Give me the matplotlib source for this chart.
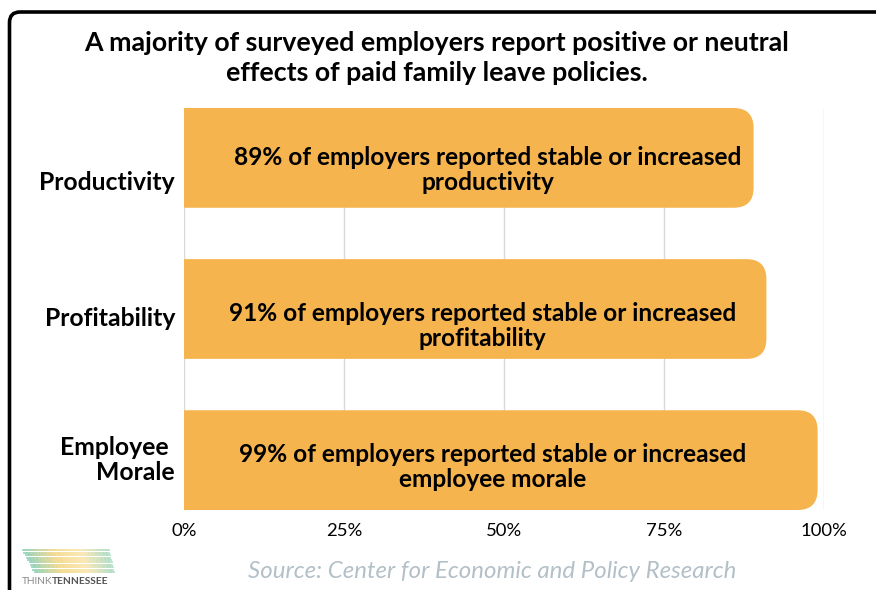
import matplotlib
matplotlib.use("Agg")
import matplotlib.pyplot as plt
from matplotlib.patches import FancyBboxPatch, PathPatch
from matplotlib.path import Path
import matplotlib.transforms as mtrans
import numpy as np

categories = ["Productivity", "Profitability", "Employee \nMorale"]
values = [89, 91, 99]
bar_labels = [
    "89% of employers reported stable or increased\nproductivity",
    "91% of employers reported stable or increased\nprofitability",
    "99% of employers reported stable or increased\nemployee morale",
]
x_ticks = [0, 25, 50, 75, 100]
x_ticklabels = ["0%", "25%", "50%", "75%", "100%"]
title = "A majority of surveyed employers report positive or neutral\neffects of paid family leave policies."
source = "Source: Center for Economic and Policy Research"

# layout tweaks (pixel offsets, styling only)
label_x = [47.5, 46.6, 48.3]
label_dy_px = [12, 17, 7]
cat_dy_px = [25, 9, 0]

BAR = "#F6B44E"
W, H = 876, 590
fig = plt.figure(figsize=(W / 100, H / 100), dpi=100)

# frame (card border)
frame = FancyBboxPatch((9.5 / W, -0.2), 1.2, (H - 12) / H + 0.2,
                       boxstyle="round,pad=0,rounding_size=0.012",
                       transform=fig.transFigure, fill=False,
                       edgecolor="black", linewidth=2.6, figure=fig,
                       mutation_aspect=W / H)
fig.patches.append(frame)

ax = fig.add_axes([184 / W, 1 - 510 / H, 640 / W, 402 / H])
ax.set_axisbelow(True)
ypos = np.arange(len(categories))
height = 0.66
bars = ax.barh(ypos, values, height=height, color=BAR, zorder=2)
ax.set_xlim(0, 100)
ax.set_ylim(len(categories) - 1 + height / 2, -height / 2)

# round right ends of bars (replace each bar by a right-rounded shape)
px_x = 640 / 100.0
px_y = 402 / (len(categories) - 1 + height)
r_px = 20
rx, ry = r_px / px_x, r_px / px_y
for b in bars:
    x0, y0 = b.get_x(), b.get_y()
    x1, y1 = x0 + b.get_width(), y0 + b.get_height()
    b.set_visible(False)
    verts = [(x0, y0), (x1 - rx, y0), (x1, y0), (x1, y0 + ry),
             (x1, y1 - ry), (x1, y1), (x1 - rx, y1), (x0, y1), (x0, y0)]
    codes = [Path.MOVETO, Path.LINETO, Path.CURVE3, Path.CURVE3,
             Path.LINETO, Path.CURVE3, Path.CURVE3, Path.LINETO,
             Path.CLOSEPOLY]
    ax.add_patch(PathPatch(Path(verts, codes), facecolor=BAR,
                           edgecolor="none", zorder=2))

for y, lab, lx, dy in zip(ypos, bar_labels, label_x, label_dy_px):
    tr = ax.transData + mtrans.ScaledTranslation(0, -dy / 100, fig.dpi_scale_trans)
    ax.text(lx, y, lab, ha="center", va="center", fontsize=17.6,
            fontfamily="Lato", fontweight="bold", color="black",
            linespacing=1.12, zorder=3, transform=tr)

ax.set_xticks(x_ticks)
ax.set_xticklabels(x_ticklabels, fontfamily="Lato", fontsize=13.3)
ax.set_yticks([])
ax.tick_params(axis="both", length=0)
ax.tick_params(axis="x", pad=9)
ax.grid(axis="x", color="#d9d9d9", linewidth=1)
for s in ax.spines.values():
    s.set_visible(False)

blend = mtrans.blended_transform_factory(ax.transAxes, ax.transData)
for y, cat, dy in zip(ypos, categories, cat_dy_px):
    tr = blend + mtrans.ScaledTranslation(-9 / 100, -dy / 100, fig.dpi_scale_trans)
    ax.text(0, y, cat, ha="right", va="center", fontsize=17.8,
            fontfamily="Lato", fontweight="bold", linespacing=1.12,
            multialignment="right", transform=tr)

fig.text(437 / W, 1 - 58 / H, title, ha="center", va="center",
         fontsize=19.3, fontfamily="Lato", fontweight="bold",
         linespacing=1.3)
fig.text(492 / W, 1 - 572 / H, source, ha="center", va="center",
         fontsize=17.3, fontfamily="Lato", fontstyle="italic",
         color="#b3c0c7")

# logo
lax = fig.add_axes([20 / W, 1 - 588 / H, 100 / W, 42 / H])
lax.set_xlim(0, 100)
lax.set_ylim(0, 42)
lax.axis("off")
cmap = matplotlib.colors.LinearSegmentedColormap.from_list(
    "tn", ["#8fd0b8", "#f3d98a", "#fbe6b0", "#a7dcc6"])
for i in range(10):
    yy = 16 + i * 2.4
    x_start = 3 + (9 - i) * 1.3
    x_end = 94 - i * 0.6
    xs = np.linspace(x_start, x_end, 30)
    for j in range(len(xs) - 1):
        lax.plot(xs[j:j + 2], [yy, yy], color=cmap(j / 29), lw=1.3, alpha=0.9)
lax.text(2, 6, "THINK", fontsize=7.3, color="#8a8a8a", fontfamily="Lato",
         va="center")
lax.text(32, 6, "TENNESSEE", fontsize=7.3, color="#555555", fontfamily="Lato",
         fontweight="bold", va="center")

fig.savefig("out.png", dpi=100)
